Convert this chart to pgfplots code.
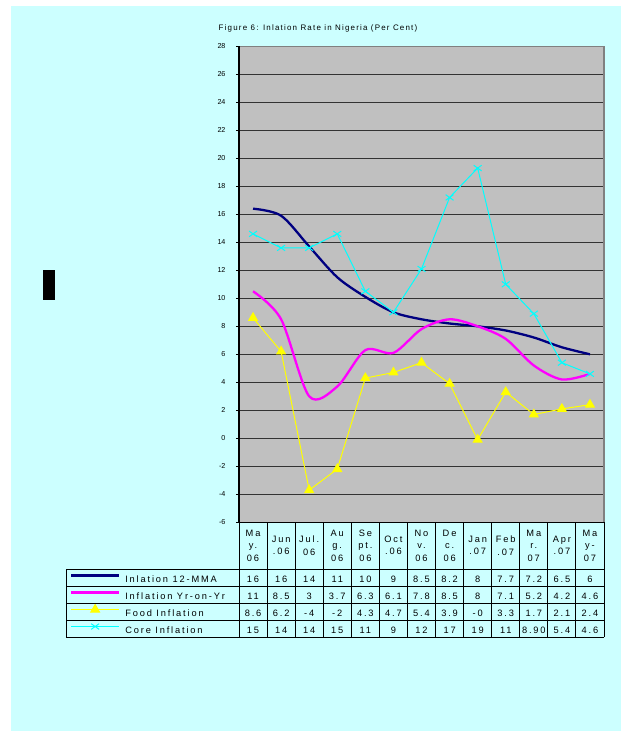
\documentclass[border=0pt]{standalone}
\usepackage{fontspec}
\setmainfont{Liberation Sans}
\newfontfamily\spfam{Liberation Sans}[LetterSpace=20]
\newfontfamily\ttlfam{Liberation Sans}[LetterSpace=15]
\usepackage{pgfplots}
\pgfplotsset{compat=1.18}
\definecolor{bgc}{HTML}{CCFFFF}
\definecolor{plotgray}{HTML}{C0C0C0}
\definecolor{navyc}{HTML}{000080}
\definecolor{magc}{HTML}{FF00FF}
\definecolor{yelc}{HTML}{FFFF00}
\definecolor{cyac}{HTML}{00FFFF}
\newcommand\tf{\fontsize{9.3}{12.5}\spfam}
\begin{document}
\begin{tikzpicture}[x=1bp,y=1bp]
\useasboundingbox (0,0) rectangle (621,731);
\fill[white] (0,0) rectangle (621,731);
\fill[bgc] (11,0) rectangle (621,725);
\fill[black] (43,431) rectangle (55,461);
\node[font=\fontsize{8}{9}\ttlfam] at (318,703) {Figure 6: Inlation Rate in Nigeria (Per Cent)};
\begin{axis}[
  scale only axis, width=365bp, height=476bp,
  anchor=south west, at={(239bp,208.7bp)},
  xmin=-0.5, xmax=12.5, ymin=-6, ymax=28,
  ytick={-6,-4,...,28}, xtick=\empty,
  axis background/.style={fill=plotgray},
  axis line style={draw=none},
  ymajorgrids, grid style={black!80, line width=0.8bp},
  tick align=outside, ytick pos=left, major tick length=3bp,
  tick style={black, line width=0.8bp},
  yticklabel style={font=\fontsize{7.2}{8}\selectfont, xshift=-7bp},
  /pgf/number format/assume math mode=true,
  legend cell align=left,
  legend style={at={(-0.463,-0.0992)}, anchor=north west, draw=none, fill=none,
    inner sep=0pt, outer sep=0pt, row sep=0pt, column sep=5bp,
    font=\fontsize{9.3}{10}\spfam,
    nodes={inner sep=0pt, text height=13bp, text depth=4bp}},
  legend image code/.code={\draw[mark repeat=2,mark phase=2,#1] plot coordinates {(0bp,2.5bp) (24bp,2.5bp) (48bp,2.5bp)};},
]
\addplot[navyc, line width=2.3bp, smooth, no markers] coordinates {
(0,16.4) (1,15.9) (2,13.7) (3,11.5) (4,10.1) (5,9.0) (6,8.5) (7,8.2) (8,8.0) (9,7.7) (10,7.2) (11,6.5) (12,6.0)};
\addlegendentry{Inlation 12-MMA}
\addplot[magc, line width=2.3bp, smooth, no markers] coordinates {
(0,10.5) (1,8.5) (2,3.0) (3,3.7) (4,6.3) (5,6.1) (6,7.8) (7,8.5) (8,8.0) (9,7.1) (10,5.2) (11,4.2) (12,4.6)};
\addlegendentry{Inflation Yr-on-Yr}
\addplot[yelc, line width=1bp, mark=triangle*, mark size=5bp, mark options={fill=yelc, draw=yelc}] coordinates {
(0,8.6) (1,6.2) (2,-3.7) (3,-2.2) (4,4.3) (5,4.7) (6,5.4) (7,3.9) (8,-0.1) (9,3.3) (10,1.7) (11,2.1) (12,2.4)};
\addlegendentry{Food Inflation}
\addplot[cyac, line width=1bp, mark=x, mark size=4bp, mark options={xscale=1.4, line width=1bp}] coordinates {
(0,14.6) (1,13.6) (2,13.6) (3,14.6) (4,10.5) (5,9.0) (6,12.1) (7,17.2) (8,19.3) (9,11.0) (10,8.9) (11,5.4) (12,4.6)};
\addlegendentry{Core Inflation}
\end{axis}
% plot area borders
\draw[black!50, line width=1.2bp] (239,684.7) -- (604,684.7) -- (604,208.7);
\draw[black, line width=1.1bp] (239,684.7) -- (239,208.7);
% data table
\begin{scope}[line width=0.9bp, black]
\draw (239,208.7) -- (604,208.7);
\foreach \yy in {161.5,144.5,127.5,110.5,93.5} \draw (66,\yy) -- (604,\yy);
\draw (66,161.5) -- (66,93.5);
\foreach \i in {0,...,13} \draw ({239+28.077*\i},208.7) -- ({239+28.077*\i},93.5);
\end{scope}
\foreach \lab [count=\i from 0] in {{Ma\\y.\\06},{Jun\\.06},{Jul.\\06},{Au\\g.\\06},{Se\\pt.\\06},{Oct\\.06},{No\\v.\\06},{De\\c.\\06},{Jan\\.07},{Feb\\.07},{Ma\\r.\\07},{Apr\\.07},{Ma\\y-\\07}}
  \node[align=center, font=\tf, inner sep=0pt] at ({253.04+28.077*\i},185.5) {\lab};
\foreach \v [count=\i from 0] in {16,16,14,11,10,9,8.5,8.2,8,7.7,7.2,6.5,6}
  \node[anchor=base, font=\tf, inner sep=0pt] at ({253.04+28.077*\i},148.5) {\v};
\foreach \v [count=\i from 0] in {11,8.5,3,3.7,6.3,6.1,7.8,8.5,8,7.1,5.2,4.2,4.6}
  \node[anchor=base, font=\tf, inner sep=0pt] at ({253.04+28.077*\i},131.5) {\v};
\foreach \v [count=\i from 0] in {8.6,6.2,-4,-2,4.3,4.7,5.4,3.9,-0,3.3,1.7,2.1,2.4}
  \node[anchor=base, font=\tf, inner sep=0pt] at ({253.04+28.077*\i},114.5) {\v};
\foreach \v [count=\i from 0] in {15,14,14,15,11,9,12,17,19,11,8.90,5.4,4.6}
  \node[anchor=base, font=\tf, inner sep=0pt] at ({253.04+28.077*\i},97.5) {\v};
\end{tikzpicture}
\end{document}
